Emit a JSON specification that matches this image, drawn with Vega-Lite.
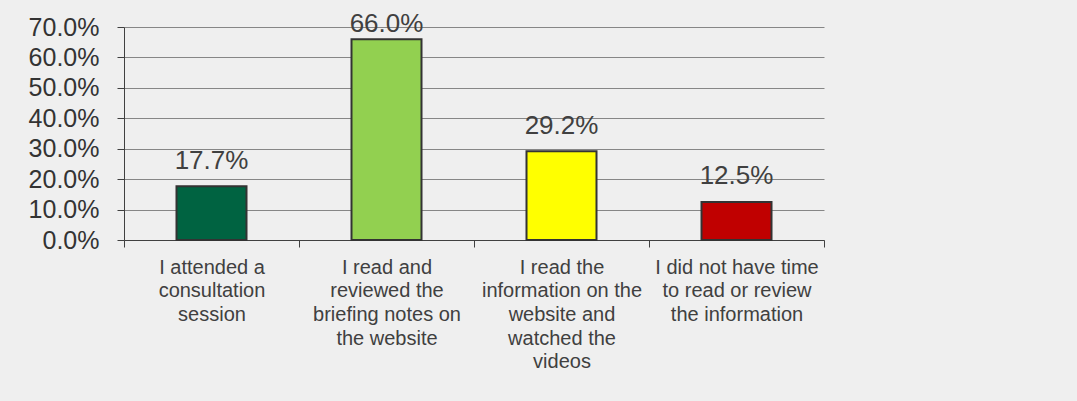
{
  "$schema": "https://vega.github.io/schema/vega-lite/v6.json",
  "width": 700,
  "height": 213,
  "autosize": {"type": "none"},
  "padding": {"left": 124, "top": 27, "right": 253, "bottom": 161},
  "background": "#efefef",
  "config": {
    "view": {"stroke": null},
    "font": "Liberation Sans"
  },
  "data": {
    "values": [
      {"category": "I attended a consultation session", "value": 0.177, "color": "#006341"},
      {"category": "I read and reviewed the briefing notes on the website", "value": 0.66, "color": "#92d050"},
      {"category": "I read the information on the website and watched the videos", "value": 0.292, "color": "#ffff00"},
      {"category": "I did not have time to read or review the information", "value": 0.125, "color": "#c00000"}
    ]
  },
  "encoding": {
    "x": {
      "field": "category",
      "type": "nominal",
      "sort": null,
      "scale": {"paddingInner": 0, "paddingOuter": 0},
      "axis": {
        "title": null,
        "labelAngle": 0,
        "tickBand": "extent",
        "tickSize": 7,
        "tickColor": "#404040",
        "domainColor": "#404040",
        "labelFont": "Liberation Sans",
        "labelFontSize": 20,
        "labelColor": "#404040",
        "labelLineHeight": 23.7,
        "labelPadding": 10,
        "labelBaseline": "top",
        "labelExpr": "datum.value == 'I attended a consultation session' ? ['I attended a', 'consultation', 'session'] : datum.value == 'I read and reviewed the briefing notes on the website' ? ['I read and', 'reviewed the', 'briefing notes on', 'the website'] : datum.value == 'I read the information on the website and watched the videos' ? ['I read the', 'information on the', 'website and', 'watched the', 'videos'] : datum.value == 'I did not have time to read or review the information' ? ['I did not have time', 'to read or review', 'the information'] : ''"
      }
    },
    "y": {
      "field": "value",
      "type": "quantitative",
      "scale": {"domain": [0, 0.7], "nice": false},
      "axis": {
        "title": null,
        "values": [0, 0.1, 0.2, 0.3, 0.4, 0.5, 0.6, 0.7],
        "format": ".1%",
        "grid": true,
        "gridColor": "#868686",
        "gridOpacity": 1,
        "gridWidth": 1,
        "domainColor": "#404040",
        "tickColor": "#404040",
        "tickSize": 7,
        "labelPadding": 18,
        "labelFont": "Liberation Sans",
        "labelFontSize": 25,
        "labelColor": "#333333"
      }
    }
  },
  "layer": [
    {
      "mark": {"type": "bar", "width": {"band": 0.4}, "stroke": "#333333", "strokeWidth": 2},
      "encoding": {
        "color": {"field": "color", "type": "nominal", "scale": null, "legend": null}
      }
    },
    {
      "transform": [{"filter": "datum.value < 0.6"}],
      "mark": {"type": "text", "dy": -17.5, "baseline": "alphabetic", "fontSize": 26, "font": "Liberation Sans", "color": "#404040"},
      "encoding": {
        "text": {"field": "value", "type": "quantitative", "format": ".1%"}
      }
    },
    {
      "transform": [{"filter": "datum.value >= 0.6"}],
      "mark": {"type": "text", "dy": -7.5, "baseline": "alphabetic", "fontSize": 26, "font": "Liberation Sans", "color": "#404040"},
      "encoding": {
        "text": {"field": "value", "type": "quantitative", "format": ".1%"}
      }
    }
  ]
}
